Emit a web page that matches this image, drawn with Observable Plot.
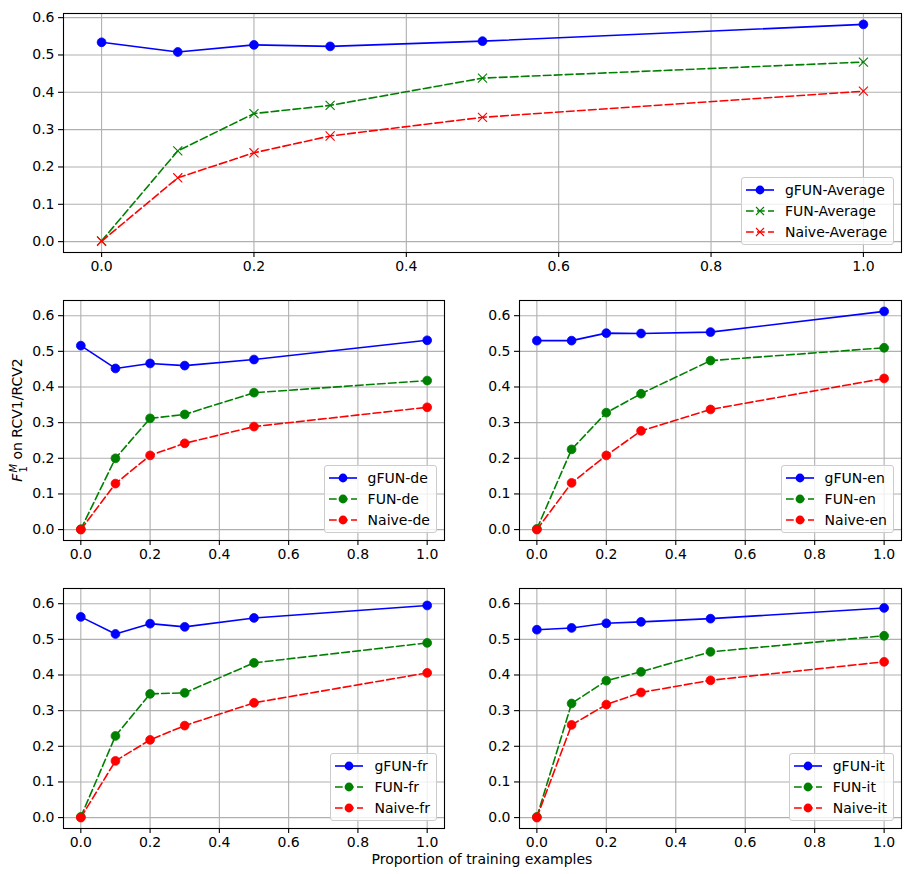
<!DOCTYPE html>
<html>
<head>
<meta charset="utf-8">
<script src="https://cdn.jsdelivr.net/npm/d3@7"></script>
<script src="https://cdn.jsdelivr.net/npm/@observablehq/plot@0.6"></script>
<style>
  html, body { margin: 0; padding: 0; background: #fff; }
  #root { position: relative; width: 918px; height: 874px; font-family: "DejaVu Sans", sans-serif; color: #000; }
  .panel { position: absolute; }
  .legend { position: absolute; background: rgba(255,255,255,0.8); border: 1px solid #cccccc; border-radius: 3px; padding: 5px 6px 5px 4px; font-size: 14px; }
  .legend .row { display: flex; align-items: center; height: 14px; line-height: 14px; }
  .legend .row + .row { margin-top: 7px; }
  .legend svg { width: 28px; height: 14px; margin-right: 11px; overflow: visible; }
  .ylabel { position: absolute; font-size: 14px; white-space: nowrap; transform-origin: center center; }
  .xlabel { position: absolute; font-size: 14px; white-space: nowrap; }
</style>
</head>
<body>
<div id="root"></div>
<script>
// ---- data ----
const proportions = [0, 0.1, 0.2, 0.3, 0.5, 1.0];
const xTicks = [0, 0.2, 0.4, 0.6, 0.8, 1.0];
const yTicks = [0, 0.1, 0.2, 0.3, 0.4, 0.5, 0.6];

const gfunAverage  = [0.534, 0.508, 0.527, 0.523, 0.537, 0.582];
const funAverage   = [0.002, 0.243, 0.343, 0.365, 0.438, 0.481];
const naiveAverage = [0.001, 0.171, 0.238, 0.283, 0.333, 0.403];

const gfunDe  = [0.516, 0.452, 0.466, 0.460, 0.477, 0.531];
const funDe   = [0.001, 0.200, 0.312, 0.323, 0.384, 0.418];
const naiveDe = [0.000, 0.129, 0.208, 0.242, 0.289, 0.343];

const gfunEn  = [0.530, 0.530, 0.551, 0.550, 0.554, 0.612];
const funEn   = [0.002, 0.225, 0.328, 0.381, 0.474, 0.510];
const naiveEn = [0.000, 0.131, 0.208, 0.277, 0.337, 0.424];

const gfunFr  = [0.563, 0.515, 0.544, 0.535, 0.560, 0.595];
const funFr   = [0.002, 0.229, 0.347, 0.350, 0.434, 0.490];
const naiveFr = [0.000, 0.159, 0.218, 0.258, 0.322, 0.406];

const gfunIt  = [0.527, 0.532, 0.545, 0.549, 0.558, 0.588];
const funIt   = [0.002, 0.320, 0.384, 0.409, 0.465, 0.510];
const naiveIt = [0.000, 0.260, 0.317, 0.351, 0.385, 0.437];

const seriesColors = { gFUN: "#0000ff", FUN: "#008000", Naive: "#ff0000" };
const xLabel = "Proportion of training examples";

// ---- helpers ----
const root = document.getElementById("root");
const DASH = "7.7,3.3";

function rows(values) { return proportions.map((x, i) => ({ x, y: values[i] })); }

function makePanel({ left, top, width, height, margins, yDomain, series, suffix, xMarker }) {
  const marks = [
    Plot.gridX(xTicks, { stroke: "#b0b0b0", strokeOpacity: 1, strokeWidth: 1.1 }),
    Plot.gridY(yTicks, { stroke: "#b0b0b0", strokeOpacity: 1, strokeWidth: 1.1 })
  ];
  for (const s of series) {
    const data = rows(s.values);
    marks.push(Plot.line(data, { x: "x", y: "y", stroke: s.color, strokeWidth: 1.6, strokeDasharray: s.dashed ? DASH : null }));
    if (s.marker === "times") {
      marks.push(Plot.dot(data, { x: "x", y: "y", symbol: "times", r: 4.2, stroke: s.color, strokeWidth: 1.1 }));
    } else {
      marks.push(Plot.dot(data, { x: "x", y: "y", r: 4.4, fill: s.color, stroke: s.color, strokeWidth: 0.8 }));
    }
  }
  marks.push(Plot.frame({ stroke: "#000", strokeWidth: 1.1 }));
  marks.push(Plot.axisX(xTicks, { tickSize: 5, tickPadding: 4, tickFormat: d3.format(".1f"), fontSize: 14, fill: "#000", stroke: "#000", strokeWidth: 1.1, label: null }));
  marks.push(Plot.axisY(yTicks, { tickSize: 5, tickPadding: 4, tickFormat: d3.format(".1f"), fontSize: 14, fill: "#000", stroke: "#000", strokeWidth: 1.1, label: null }));

  const svg = Plot.plot({
    width, height,
    marginLeft: margins[0], marginRight: margins[1], marginTop: margins[2], marginBottom: margins[3],
    x: { domain: [-0.05, 1.05] },
    y: { domain: yDomain },
    style: { fontFamily: "DejaVu Sans, sans-serif", fontSize: "14px", background: "transparent", color: "#000", overflow: "visible" },
    marks
  });
  const wrap = document.createElement("div");
  wrap.className = "panel";
  wrap.style.left = left + "px";
  wrap.style.top = top + "px";
  wrap.style.width = width + "px";
  wrap.style.height = height + "px";
  wrap.appendChild(svg);

  // legend (lower right, inside frame)
  const lg = document.createElement("div");
  lg.className = "legend";
  lg.style.right = (margins[1] + 7) + "px";
  lg.style.bottom = (margins[3] + 7) + "px";
  for (const s of series) {
    const row = document.createElement("div");
    row.className = "row";
    const markerSvg = s.marker === "times"
      ? `<path d="M10,3 L18,11 M18,3 L10,11" stroke="${s.color}" stroke-width="1.1" fill="none"/>`
      : `<circle cx="14" cy="7" r="4.4" fill="${s.color}"/>`;
    row.innerHTML = `<svg viewBox="0 0 28 14"><line x1="0" y1="7" x2="28" y2="7" stroke="${s.color}" stroke-width="1.6" ${s.dashed ? `stroke-dasharray="${DASH}"` : ""}/>${markerSvg}</svg><span>${s.name}</span>`;
    lg.appendChild(row);
  }
  wrap.appendChild(lg);
  root.appendChild(wrap);
}

function triple(suffix, g, f, n, marker) {
  return [
    { name: "gFUN-" + suffix, values: g, color: seriesColors.gFUN, dashed: false, marker: "dot" },
    { name: "FUN-" + suffix, values: f, color: seriesColors.FUN, dashed: true, marker },
    { name: "Naive-" + suffix, values: n, color: seriesColors.Naive, dashed: true, marker }
  ];
}

const topDomain = [-0.0291, 0.6111];
const gridDomain = [-0.0306, 0.6426];

makePanel({ left: 0, top: 0, width: 918, height: 290, margins: [63, 17, 13, 38], yDomain: topDomain,
  series: triple("Average", gfunAverage, funAverage, naiveAverage, "times") });

makePanel({ left: 0, top: 290, width: 460, height: 290, margins: [63, 16, 10, 40], yDomain: gridDomain,
  series: triple("de", gfunDe, funDe, naiveDe, "dot") });
makePanel({ left: 458, top: 290, width: 460, height: 290, margins: [61, 17, 10, 40], yDomain: gridDomain,
  series: triple("en", gfunEn, funEn, naiveEn, "dot") });
makePanel({ left: 0, top: 578, width: 460, height: 290, margins: [63, 16, 10, 40], yDomain: gridDomain,
  series: triple("fr", gfunFr, funFr, naiveFr, "dot") });
makePanel({ left: 458, top: 578, width: 460, height: 290, margins: [61, 17, 10, 40], yDomain: gridDomain,
  series: triple("it", gfunIt, funIt, naiveIt, "dot") });

// y label
const yl = document.createElement("div");
yl.className = "ylabel";
yl.innerHTML = `<i>F</i><span style="display:inline-flex;flex-direction:column;vertical-align:middle;font-size:10px;line-height:10px;margin-left:1px;position:relative;top:1px"><i>M</i><span>1</span></span> on RCV1/RCV2`;
root.appendChild(yl);
const ylw = yl.offsetWidth, ylh = yl.offsetHeight;
yl.style.left = (17 - ylw / 2) + "px";
yl.style.top = (420 - ylh / 2) + "px";
yl.style.transform = "rotate(-90deg)";

// x label
const xl = document.createElement("div");
xl.className = "xlabel";
xl.textContent = xLabel;
root.appendChild(xl);
xl.style.left = (482 - xl.offsetWidth / 2) + "px";
xl.style.top = (859 - xl.offsetHeight / 2) + "px";
</script>
</body>
</html>
